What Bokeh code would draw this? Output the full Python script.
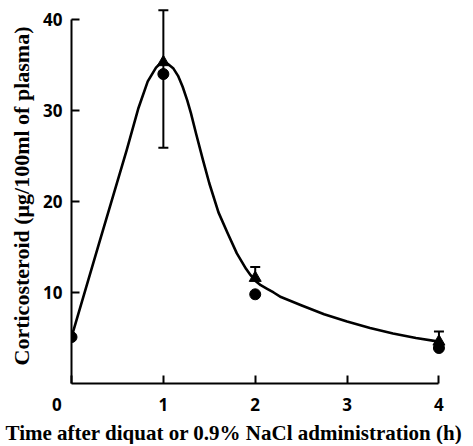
from bokeh.plotting import figure
from bokeh.models import Range1d, Title, FixedTicker
from bokeh.embed import file_html
from bokeh.resources import INLINE

# Smooth fitted curve
curve_t = [0, 0.3, 0.6, 0.73, 0.83, 0.92, 0.96, 1.0, 1.05, 1.11, 1.16, 1.21, 1.26, 1.3,
           1.36, 1.43, 1.5, 1.6, 1.7, 1.8, 1.9, 1.95, 2.0, 2.06, 2.13, 2.2, 2.28, 2.38,
           2.5, 2.75, 3.0, 3.25, 3.5, 3.75, 4.0]
curve_v = [5.1, 15.4, 25.6, 30.3, 33.2, 34.7, 35.1, 35.3, 35.1, 34.6, 33.8, 32.6, 31.1, 29.7,
           27.3, 24.6, 22.0, 18.8, 16.5, 14.3, 12.6, 11.9, 11.3, 10.8, 10.4, 10.0, 9.5, 9.1,
           8.6, 7.6, 6.8, 6.1, 5.5, 5.0, 4.6]

# Circles (one group)
circ_t = [0, 1, 2, 4]
circ_v = [5.1, 34.0, 9.8, 3.9]

# Triangles (other group)
tri_t = [1, 2, 4]
tri_v = [35.3, 11.6, 4.6]

# Error bars
err_t = [1, 2, 4]
err_low = [25.9, 11.6, 4.6]
err_high = [41.0, 12.8, 5.7]
lowcap_t = [1]
lowcap_v = [25.9]

x_ticks = [0, 1, 2, 3, 4]
y_ticks = [10, 20, 30, 40]

p = figure(width=470, height=444, output_backend="svg", toolbar_location=None,
           x_range=Range1d(0, 4.3), y_range=Range1d(0, 41.2),
           min_border_left=71, min_border_right=4, min_border_top=8,
           min_border_bottom=58)
p.outline_line_color = None
p.xgrid.visible = False
p.ygrid.visible = False
p.background_fill_color = "white"

p.line(curve_t, curve_v, line_width=2.6, line_color="black", line_join="round")
p.segment(err_t, err_low, err_t, err_high, line_width=2, line_color="black")
p.scatter(err_t, err_high, marker="dash", size=10, line_width=2, line_color="black")
p.scatter(lowcap_t, lowcap_v, marker="dash", size=10, line_width=2, line_color="black")
p.scatter(tri_t, tri_v, marker="triangle", size=12, fill_color="black", line_color="black")
p.scatter(circ_t, circ_v, marker="circle", size=11, fill_color="black", line_color="black")

for ax in (p.xaxis[0], p.yaxis[0]):
    ax.axis_line_width = 2
    ax.axis_line_color = "black"
    ax.major_tick_line_width = 2
    ax.major_tick_in = 8
    ax.major_tick_out = 0
    ax.minor_tick_line_color = None
    ax.major_label_text_font = "Open Sans"
    ax.major_label_text_font_style = "bold"
    ax.major_label_text_font_size = "17px"
    ax.major_label_text_color = "black"

p.xaxis[0].ticker = FixedTicker(ticks=x_ticks)
p.xaxis[0].major_label_overrides = {0: "0\u2007\u2007\u2007"}
p.xaxis[0].bounds = (0, 4)
p.xaxis[0].major_label_standoff = 9

p.yaxis[0].ticker = FixedTicker(ticks=y_ticks)
p.yaxis[0].bounds = (0, 40)
p.yaxis[0].major_label_standoff = 9
p.yaxis[0].axis_label = "Corticosteroid (\u03bcg/100ml of plasma)"
p.yaxis[0].axis_label_text_font = "Liberation Serif"
p.yaxis[0].axis_label_text_font_style = "bold"
p.yaxis[0].axis_label_text_font_size = "22px"
p.yaxis[0].axis_label_standoff = 6
p.yaxis[0].axis_label_text_color = "black"

xtitle = Title(text="Time after diquat or 0.9% NaCl administration (h)",
               align="left", offset=-66, standoff=0,
               text_font="Liberation Serif", text_font_style="bold",
               text_font_size="21px", text_color="black")
p.add_layout(xtitle, "below")

open("out.html", "w").write(file_html(p, INLINE))
